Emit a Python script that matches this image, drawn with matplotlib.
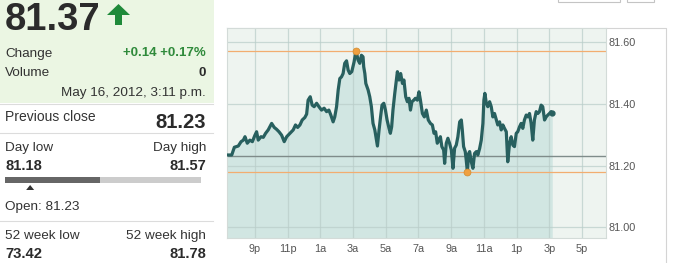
import matplotlib
matplotlib.use("Agg")
import matplotlib.pyplot as plt
from matplotlib.patches import Rectangle, Polygon

plt.rcParams['font.family'] = ['Liberation Sans', 'DejaVu Sans']

# ---------------- data ----------------
hours = [19.30, 19.58, 19.74, 19.98, 20.15, 20.29, 20.39, 20.53, 20.69, 20.84,
         21.00, 21.10, 21.20, 21.37, 21.51, 21.65, 21.81, 22.02, 22.18, 22.32,
         22.47, 22.63, 22.79, 22.94, 23.14, 23.34, 23.48, 23.61, 23.75, 23.89,
         24.05, 24.16, 24.25, 24.38, 24.50, 24.62, 24.77, 24.91, 25.07, 25.23,
         25.38, 25.52, 25.64, 25.78, 25.88, 25.99, 26.09, 26.19, 26.29, 26.39,
         26.49, 26.60, 26.70, 26.80, 26.92, 27.06, 27.18, 27.31, 27.41, 27.51,
         27.61, 27.65, 27.72, 27.78, 27.92, 28.02, 28.12, 28.22, 28.33, 28.43,
         28.49, 28.59, 28.67, 28.77, 28.88, 28.98, 29.08, 29.20, 29.28, 29.36,
         29.44, 29.55, 29.65, 29.71, 29.81, 29.91, 30.02, 30.11, 30.22, 30.32,
         30.42, 30.51, 30.60, 30.71, 30.81, 30.93, 31.03, 31.12, 31.24, 31.36,
         31.48, 31.60, 31.73, 31.85, 31.95, 32.05, 32.15, 32.25, 32.34, 32.43,
         32.54, 32.60, 32.70, 32.80, 32.90, 33.01, 33.11, 33.21, 33.31, 33.41,
         33.52, 33.62, 33.68, 33.76, 33.86, 33.92, 33.99, 34.07, 34.13, 34.23,
         34.33, 34.43, 34.54, 34.63, 34.74, 34.84, 34.94, 35.00, 35.06, 35.15,
         35.24, 35.35, 35.45, 35.55, 35.65, 35.76, 35.85, 35.96, 36.06, 36.16,
         36.26, 36.37, 36.46, 36.57, 36.67, 36.77, 36.87, 36.98, 37.07, 37.18,
         37.28, 37.38, 37.48, 37.59, 37.69, 37.79, 37.89, 37.99, 38.09, 38.20,
         38.30, 38.40, 38.50, 38.60, 38.71, 38.81, 38.91, 39.01, 39.11, 39.18]
prices = [81.234, 81.234, 81.259, 81.263, 81.277, 81.282, 81.293, 81.272, 81.282, 81.277,
          81.298, 81.309, 81.282, 81.293, 81.291, 81.304, 81.315, 81.336, 81.323, 81.317,
          81.309, 81.298, 81.277, 81.293, 81.304, 81.315, 81.331, 81.323, 81.331, 81.347,
          81.355, 81.366, 81.411, 81.422, 81.395, 81.390, 81.401, 81.390, 81.379, 81.385,
          81.374, 81.379, 81.363, 81.341, 81.357, 81.390, 81.444, 81.481, 81.486, 81.497,
          81.530, 81.538, 81.508, 81.497, 81.503, 81.534, 81.570, 81.540, 81.530, 81.556,
          81.551, 81.519, 81.497, 81.465, 81.444, 81.422, 81.390, 81.336, 81.315, 81.282,
          81.263, 81.315, 81.352, 81.395, 81.401, 81.379, 81.347, 81.320, 81.304, 81.325,
          81.379, 81.433, 81.476, 81.503, 81.476, 81.497, 81.465, 81.476, 81.422, 81.406,
          81.417, 81.379, 81.406, 81.411, 81.417, 81.411, 81.438, 81.411, 81.368, 81.357,
          81.379, 81.347, 81.336, 81.331, 81.304, 81.309, 81.272, 81.282, 81.293, 81.261,
          81.250, 81.207, 81.272, 81.288, 81.272, 81.250, 81.191, 81.256, 81.266, 81.293,
          81.341, 81.347, 81.315, 81.261, 81.245, 81.218, 81.180, 81.239, 81.245, 81.212,
          81.191, 81.239, 81.245, 81.234, 81.255, 81.282, 81.336, 81.411, 81.433, 81.401,
          81.390, 81.406, 81.390, 81.357, 81.368, 81.347, 81.331, 81.341, 81.315, 81.331,
          81.320, 81.309, 81.212, 81.272, 81.293, 81.266, 81.261, 81.304, 81.309, 81.325,
          81.336, 81.320, 81.347, 81.363, 81.357, 81.368, 81.336, 81.282, 81.347, 81.374,
          81.368, 81.374, 81.395, 81.390, 81.347, 81.357, 81.363, 81.368, 81.374, 81.370]

x_ticks = [21, 23, 25, 27, 29, 31, 33, 35, 37, 39, 41]
x_labels = ['9p', '11p', '1a', '3a', '5a', '7a', '9a', '11a', '1p', '3p', '5p']
y_ticks = [81.00, 81.20, 81.40, 81.60]
y_labels = ['81.00', '81.20', '81.40', '81.60']

previous_close = 81.23
day_low, day_high = 81.18, 81.57
day_low_time, day_high_time = 33.99, 27.18
open_price = 81.23
last_price = 81.37
week52_low, week52_high = 73.42, 81.78

# ---------------- figure ----------------
W, H = 673, 263
fig = plt.figure(figsize=(W / 100, H / 100), dpi=100)
fig.patch.set_facecolor('white')

ov = fig.add_axes([0, 0, 1, 1])
ov.set_xlim(0, W)
ov.set_ylim(H, 0)
ov.axis('off')
ov.patch.set_alpha(0)

ov.add_patch(Rectangle((0, 0), 214, 103, facecolor='#ebf6e3', edgecolor='none'))
dark = '#2b2b2b'
txt = '#333333'
green = '#2f8a3b'

ov.text(4.5, 30.5, '81.37', fontsize=27.5, fontweight='bold', color=dark, va='baseline', ha='left')
ov.add_patch(Polygon([(107, 15), (118.5, 4), (130, 15), (122, 15), (122, 25), (115, 25), (115, 15)],
                     closed=True, facecolor='#1f8a3a', edgecolor='none'))

ov.text(5, 56.5, 'Change', fontsize=9.7, color=txt, va='baseline')
ov.text(206, 56.5, '+0.14 +0.17%', fontsize=9.5, fontweight='bold', color=green, va='baseline', ha='right')
ov.text(5, 76, 'Volume', fontsize=9.7, color=txt, va='baseline')
ov.text(206, 76, '0', fontsize=9.5, fontweight='bold', color=dark, va='baseline', ha='right')
ov.text(206, 96, 'May 16, 2012, 3:11 p.m.', fontsize=9.7, color=txt, va='baseline', ha='right')

ov.plot([0, 213], [103.5, 103.5], color='#dcdcdc', lw=0.8)
ov.text(5, 121, 'Previous close', fontsize=10, color=txt, va='baseline')
ov.text(206, 127.5, '81.23', fontsize=14.5, fontweight='bold', color=dark, va='baseline', ha='right')
ov.plot([0, 213], [133.3, 133.3], color='#dcdcdc', lw=0.8)

ov.text(5, 150.7, 'Day low', fontsize=9.7, color=txt, va='baseline')
ov.text(206, 150.7, 'Day high', fontsize=9.7, color=txt, va='baseline', ha='right')
ov.text(5, 170, '81.18', fontsize=10.6, fontweight='bold', color=dark, va='baseline')
ov.text(206, 170, '81.57', fontsize=10.6, fontweight='bold', color=dark, va='baseline', ha='right')

bar_x0, bar_x1 = 5, 201
frac = (last_price - day_low) / (day_high - day_low)
ov.add_patch(Rectangle((bar_x0, 176.7), bar_x1 - bar_x0, 6, facecolor='#cccccc', edgecolor='none'))
ov.add_patch(Rectangle((bar_x0, 176.7), (bar_x1 - bar_x0) * frac, 6, facecolor='#666666', edgecolor='none'))
ox = bar_x0 + (bar_x1 - bar_x0) * (open_price - day_low) / (day_high - day_low)
ov.add_patch(Polygon([(ox - 4, 190), (ox, 185), (ox + 4, 190)], closed=True,
                     facecolor='#333333', edgecolor='none'))
ov.text(5, 210, 'Open: 81.23', fontsize=9.7, color=txt, va='baseline')
ov.plot([0, 213], [220.7, 220.7], color='#dcdcdc', lw=0.8)

ov.text(5, 239.3, '52 week low', fontsize=9.7, color=txt, va='baseline')
ov.text(206, 239.3, '52 week high', fontsize=9.7, color=txt, va='baseline', ha='right')
ov.text(5, 258.3, '73.42', fontsize=10.6, fontweight='bold', color=dark, va='baseline')
ov.text(206, 258.3, '81.78', fontsize=10.6, fontweight='bold', color=dark, va='baseline', ha='right')

ov.plot([227, 666, 666], [28, 28, 263], color='#d4d4d4', lw=0.8)
ov.add_patch(Rectangle((558, -6), 62, 7.5, facecolor='white', edgecolor='#c4c4c4', lw=0.8))
ov.add_patch(Rectangle((627, -6), 27, 7.5, facecolor='white', edgecolor='#c4c4c4', lw=0.8))

# ---------------- chart ----------------
L, R, T, B = 227, 605.7, 28, 238
ax = fig.add_axes([L / W, 1 - B / H, (R - L) / W, (B - T) / H])
ax.set_facecolor('#eef4f0')
ymin, ymax = 80.966, 81.644
ax.set_xlim(19.29, 42.45)
ax.set_ylim(ymin, ymax)

ax.fill_between(hours, prices, ymin, color='#d1e6e2', zorder=1, lw=0)
for xt in x_ticks:
    ax.axvline(xt, color='#b9cdc9', lw=0.9, alpha=0.7, zorder=2)
for yt in y_ticks:
    ax.axhline(yt, color='#b9cdc9', lw=0.9, alpha=0.7, zorder=2)

ax.axhline(previous_close, color='#7f8c8a', lw=1.0, zorder=2.5)
ax.axhline(day_high, color='#f2ad70', lw=0.9, zorder=2.5)
ax.axhline(day_low, color='#f2ad70', lw=0.9, zorder=2.5)

ax.plot(hours, prices, color='#28605f', lw=2.3, zorder=3, solid_joinstyle='round')
ax.plot([day_high_time], [day_high], 'o', ms=5, color='#f0a040', mec='#d08a30', mew=0.5, zorder=4)
ax.plot([day_low_time], [day_low], 'o', ms=5, color='#f0a040', mec='#d08a30', mew=0.5, zorder=4)
ax.plot([hours[-1]], [prices[-1]], 'o', ms=3.5, color='#28605f', zorder=4)

ax.set_xticks(x_ticks)
ax.set_xticklabels(x_labels)
ax.yaxis.tick_right()
ax.set_yticks(y_ticks)
ax.set_yticklabels(y_labels)
ax.tick_params(axis='both', length=0, labelsize=7.8, colors='#555555')
ax.tick_params(axis='x', pad=4.5)
ax.tick_params(axis='y', pad=2)
for s in ax.spines.values():
    s.set_color('#d3dbd8')
    s.set_linewidth(0.8)

fig.savefig('out.png', dpi=100, facecolor='white')
